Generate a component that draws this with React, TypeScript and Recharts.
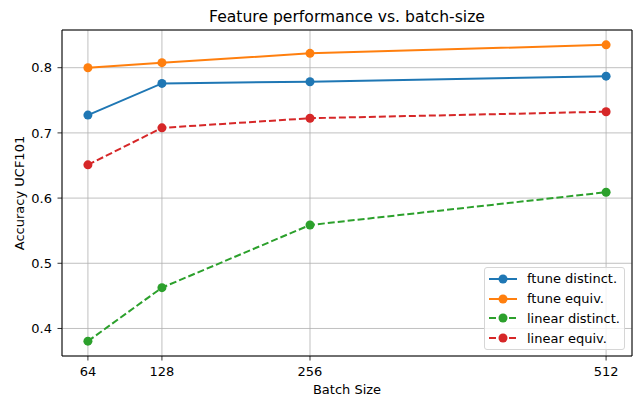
import React from 'react'
import {
  CartesianGrid,
  Line,
  LineChart,
  ReferenceArea,
  XAxis,
  YAxis,
} from 'recharts'

const batchSizes = [64, 128, 256, 512]
const ftuneDistinct = [0.7273, 0.7759, 0.7785, 0.787]
const ftuneEquiv = [0.8, 0.8077, 0.822, 0.8351]
const linearDistinct = [0.3805, 0.4626, 0.5587, 0.609]
const linearEquiv = [0.651, 0.7077, 0.7225, 0.7325]

const yTicks = [0.4, 0.5, 0.6, 0.7, 0.8]

const series = [
  { key: 'ftuneDistinct', name: 'ftune distinct.', color: '#1f77b4', dashed: false },
  { key: 'ftuneEquiv', name: 'ftune equiv.', color: '#ff7f0e', dashed: false },
  { key: 'linearDistinct', name: 'linear distinct.', color: '#2ca02c', dashed: true },
  { key: 'linearEquiv', name: 'linear equiv.', color: '#d62728', dashed: true },
]

const data = batchSizes.map((b, i) => ({
  batch: b,
  ftuneDistinct: ftuneDistinct[i],
  ftuneEquiv: ftuneEquiv[i],
  linearDistinct: linearDistinct[i],
  linearEquiv: linearEquiv[i],
}))

// matplotlib-style 5% margins around the data
const xPad = (512 - 64) * 0.05
const xDomain = [64 - xPad, 512 + xPad]
const allY = [...ftuneDistinct, ...ftuneEquiv, ...linearDistinct, ...linearEquiv]
const yMin = Math.min(...allY)
const yMax = Math.max(...allY)
const yPad = (yMax - yMin) * 0.05
const yDomain = [yMin - yPad, yMax + yPad]

const FONT = '"DejaVu Sans", sans-serif'
const DASH = '7 3'

function LegendBox() {
  return (
    <div
      style={{
        position: 'absolute',
        left: 484,
        top: 267,
        width: 141,
        height: 83,
        border: '1px solid #d6d6d6',
        borderRadius: 3,
        background: 'rgba(255,255,255,0.8)',
        fontFamily: FONT,
        fontSize: 13,
        color: '#000',
        boxSizing: 'border-box',
        paddingTop: 1,
      }}
    >
      {series.map((s) => (
        <div key={s.key} style={{ display: 'flex', alignItems: 'center', height: 19.8 }}>
          <svg width={38} height={12} style={{ marginLeft: 4, flex: 'none' }}>
            <line
              x1={0}
              y1={6}
              x2={28}
              y2={6}
              stroke={s.color}
              strokeWidth={2}
              strokeDasharray={s.dashed ? DASH : undefined}
            />
            <circle cx={14} cy={6} r={4.5} fill={s.color} />
          </svg>
          <span style={{ whiteSpace: 'nowrap' }}>{s.name}</span>
        </div>
      ))}
    </div>
  )
}

export default function App() {
  return (
    <div style={{ position: 'absolute', left: 0, top: 0, width: 634, height: 396, background: '#fff' }}>
      <div
        style={{
          position: 'absolute',
          left: 62,
          width: 570,
          top: 8,
          textAlign: 'center',
          fontFamily: FONT,
          fontSize: 15.6,
          color: '#000',
        }}
      >
        Feature performance vs. batch-size
      </div>
      <LineChart
        width={634}
        height={396}
        data={data}
        margin={{ top: 30, right: 2, bottom: 0, left: 0 }}
      >
        <CartesianGrid stroke="#b0b0b0" strokeWidth={0.8} />
        <XAxis
          dataKey="batch"
          type="number"
          domain={xDomain}
          ticks={batchSizes}
          allowDataOverflow
          height={40}
          axisLine={false}
          tickSize={4.5}
          tickMargin={6}
          tickLine={{ stroke: '#000', strokeWidth: 0.8 }}
          tick={{ fill: '#000', fontSize: 13, fontFamily: FONT }}
          label={{
            content: ({ viewBox }: any) => (
              <text
                x={viewBox.x + viewBox.width / 2}
                y={viewBox.y + viewBox.height - 2.5}
                textAnchor="middle"
                fontSize={13}
                fontFamily={FONT}
                fill="#000"
              >
                Batch Size
              </text>
            ),
          }}
        />
        <YAxis
          type="number"
          domain={yDomain}
          ticks={yTicks}
          allowDataOverflow
          width={62}
          axisLine={false}
          tickSize={4.5}
          tickMargin={5.5}
          tickLine={{ stroke: '#000', strokeWidth: 0.8 }}
          tickFormatter={(v: number) => v.toFixed(1)}
          tick={{ fill: '#000', fontSize: 13, fontFamily: FONT }}
          label={{
            content: ({ viewBox }: any) => {
              const cx = 24
              const cy = viewBox.y + viewBox.height / 2
              return (
                <text
                  x={cx}
                  y={cy}
                  transform={`rotate(-90, ${cx}, ${cy})`}
                  textAnchor="middle"
                  fontSize={13}
                  fontFamily={FONT}
                  fill="#000"
                >
                  Accuracy UCF101
                </text>
              )
            },
          }}
        />
        {series.map((s) => (
          <Line
            key={s.key}
            dataKey={s.key}
            name={s.name}
            stroke={s.color}
            strokeWidth={2}
            strokeDasharray={s.dashed ? DASH : undefined}
            dot={{ r: 4.5, fill: s.color, stroke: s.color, strokeWidth: 0 }}
            activeDot={false}
            isAnimationActive={false}
          />
        ))}
        <ReferenceArea
          x1={xDomain[0]}
          x2={xDomain[1]}
          y1={yDomain[0]}
          y2={yDomain[1]}
          fill="none"
          stroke="#000"
          strokeWidth={1}
          ifOverflow="visible"
        />
      </LineChart>
      <LegendBox />
    </div>
  )
}
